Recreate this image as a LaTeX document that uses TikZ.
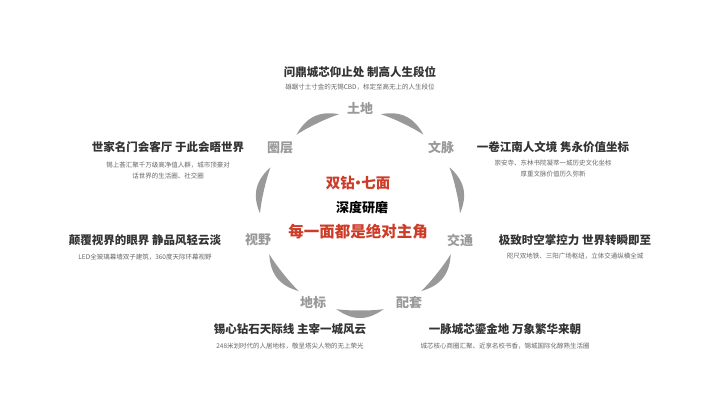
\documentclass[tikz,border=0pt]{standalone}
\usepackage{fontspec}
\setmainfont{Noto Sans CJK SC}
\begin{document}
\begin{tikzpicture}[x=1pt,y=-1pt,
  ttl/.style={font=\fontsize{11.5}{13}\selectfont\bfseries,text=black!80},
  sub/.style={font=\fontsize{6.5}{11}\selectfont,text=black!60,align=center},
  lab/.style={font=\fontsize{13}{14}\selectfont\bfseries,text=black!40},
  red/.style={font=\fontsize{14.5}{16}\selectfont\bfseries,text={rgb,255:red,205;green,60;blue,40}}]
\useasboundingbox (0,0) rectangle (720,411);
% arcs
\foreach \s in {90,38.57,-12.86,-64.29,-115.71,-167.14,141.43}{
  \fill[black!40] plot[domain=0:1,samples=24] ({360+(100+6*sin(180*\x))*cos(\s-12-27.4*\x)},{212-(100+6*sin(180*\x))*sin(\s-12-27.4*\x)})
   -- plot[domain=1:0,samples=24] ({360+(100-1.5*sin(180*\x))*cos(\s-12-27.4*\x)},{212-(100-1.5*sin(180*\x))*sin(\s-12-27.4*\x)}) -- cycle;
}
\node[lab] (l1) at (360,108) {土地};
\node[lab] (l2) at (441,148) {文脉};
\node[lab] (l3) at (460,240) {交通};
\node[lab] (l4) at (409,303) {配套};
\node[lab] (l5) at (313,303) {地标};
\node[lab] (l6) at (258,240) {视野};
\node[lab] (l7) at (280,148) {圈层};
\node[red] (c1) at (358,183) {双钻\hspace{-4pt}·\hspace{-4pt}七面};
\node[font=\fontsize{13}{14}\selectfont\bfseries] (c2) at (362,208) {深度研磨};
\node[red,font=\fontsize{15.5}{17}\selectfont\bfseries] (c3) at (358,232) {每一面都是绝对主角};
\node[ttl] (t1) at (360,72) {问鼎城芯仰止处 制高人生段位};
\node[sub] (s1) at (360,87) {雄踞寸土寸金的无锡CBD，标定至高无上的人生段位};
\node[ttl] (t2) at (168,147) {世家名门会客厅 于此会晤世界};
\node[sub] (s2) at (168,171) {锡上荟汇聚千万级高净值人群，城市顶豪对\\话世界的生活圈、社交圈};
\node[ttl] (t3) at (553,147) {一卷江南人文境 隽永价值坐标};
\node[sub] (s3) at (553,169) {崇安寺、东林书院凝萃一城历史文化坐标\\厚重文脉价值历久弥新};
\node[ttl] (t4) at (145,240) {颠覆视界的眼界 静品风轻云淡};
\node[sub] (s4) at (145,257) {LED全玻璃幕墙双子建筑，360度天际环幕视野};
\node[ttl] (t5) at (575,240) {极致时空掌控力 世界转瞬即至};
\node[sub] (s5) at (575,256) {咫尺双地铁、三阳广场枢纽，立体交通纵横全城};
\node[ttl] (t6) at (290,329) {锡心钻石天际线 主宰一城风云};
\node[sub] (s6) at (290,346) {248米划时代的人居地标，敬呈塔尖人物的无上荣光};
\node[ttl] (t7) at (505,329) {一脉城芯鎏金地 万象繁华来朝};
\node[sub] (s7) at (505,346) {城芯核心商圈汇聚、近享名校书香，锡城国际化醇熟生活圈};
\end{tikzpicture}
\end{document}
